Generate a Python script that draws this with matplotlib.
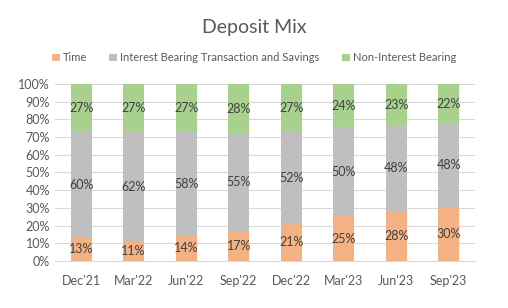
import numpy as np
import matplotlib.pyplot as plt

plt.rcParams['font.family'] = ['Lato', 'DejaVu Sans']

quarters = ["Dec'21", "Mar'22", "Jun'22", "Sep'22", "Dec'22", "Mar'23", "Jun'23", "Sep'23"]
time_dep = [13, 11, 14, 17, 21, 25, 28, 30]
int_bearing = [60, 62, 58, 55, 52, 50, 48, 48]
non_int = [27, 27, 27, 28, 27, 24, 23, 22]

series = [("Time", time_dep, '#F4B183'),
          ("Interest Bearing Transaction and Savings", int_bearing, '#BFBFBF'),
          ("Non-Interest Bearing", non_int, '#A9D18E')]

totals = np.array(time_dep) + np.array(int_bearing) + np.array(non_int)

fig = plt.figure(figsize=(5.08, 3.08), dpi=100)
ax = fig.add_axes([0.108, 0.153, 0.827, 0.574])

x = np.arange(len(quarters))
bottom = np.zeros(len(quarters))
handles = []
for name, vals, col in series:
    frac = np.array(vals) / totals
    b = ax.bar(x, frac, 0.4, bottom=bottom, color=col, label=name, zorder=2)
    handles.append(b)
    for xi, bt, fr, v in zip(x, bottom, frac, vals):
        ax.text(xi, bt + fr / 2, f"{v}%", ha='center', va='center',
                fontsize=9, color='#404040', zorder=3)
    bottom += frac

ax.set_xlim(-0.5, len(quarters) - 0.5)
ax.set_ylim(0, 1)
ax.set_yticks(np.arange(0, 1.01, 0.1))
ax.set_yticklabels([f"{int(round(t * 100))}%" for t in np.arange(0, 1.01, 0.1)])
ax.set_xticks(x)
ax.set_xticklabels(quarters)
ax.tick_params(axis='both', length=0, labelsize=9, colors='#595959')
ax.tick_params(axis='x', pad=10)
ax.grid(axis='y', color='#D9D9D9', linewidth=0.8, zorder=0)
for s in ['top', 'right', 'left']:
    ax.spines[s].set_visible(False)
ax.spines['bottom'].set_color('#D9D9D9')

fig.text(0.5, 0.912, "Deposit Mix", ha='center', va='center', fontsize=14, color='#595959')
fig.legend(handles=handles, loc='center', bbox_to_anchor=(0.5, 0.812), ncol=3,
           frameon=False, fontsize=8, handlelength=0.7, handleheight=0.7,
           handletextpad=0.3, columnspacing=2.0, labelcolor='#595959')

fig.savefig('out.png', dpi=100)
